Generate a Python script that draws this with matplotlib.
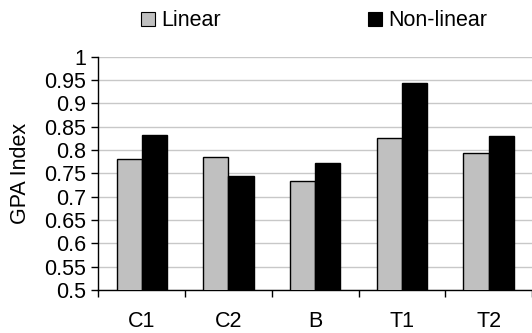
import matplotlib
matplotlib.use("Agg")
import matplotlib.pyplot as plt
import numpy as np
from matplotlib.patches import Patch

categories = ["C1", "C2", "B", "T1", "T2"]
linear = [0.781, 0.784, 0.734, 0.826, 0.794]
nonlinear = [0.833, 0.744, 0.773, 0.943, 0.830]
yticks = [0.5, 0.55, 0.6, 0.65, 0.7, 0.75, 0.8, 0.85, 0.9, 0.95, 1.0]
ytick_labels = ["0.5", "0.55", "0.6", "0.65", "0.7", "0.75", "0.8", "0.85", "0.9", "0.95", "1"]

plt.rcParams["font.family"] = ["Liberation Sans", "DejaVu Sans"]
FS = 15.5

fig = plt.figure(figsize=(5.32, 3.33), dpi=100)
ax = fig.add_axes([98.3 / 532, 1 - 290 / 333, 1 - 98.3 / 532, (290 - 56.7) / 333])

x = np.arange(len(categories))
w = 0.29
ax.bar(x - w / 2, linear, w, color="#c0c0c0", edgecolor="black", linewidth=1.0, zorder=3)
ax.bar(x + w / 2, nonlinear, w, color="black", edgecolor="black", linewidth=1.0, zorder=3)

ax.set_ylim(0.5, 1.0)
ax.set_xlim(-0.5, 4.46)
ax.set_yticks(yticks)
ax.set_yticklabels(ytick_labels, fontsize=FS)
ax.yaxis.grid(True, color="#c8c8c8", linewidth=1.0, zorder=0)
ax.set_axisbelow(True)

# category separators as ticks, labels centred in each slot
ax.set_xticks(np.arange(len(categories) + 1) - 0.5)
ax.set_xticklabels([])
ax.set_xticks(x, minor=True)
ax.set_xticklabels(categories, minor=True, fontsize=FS)
ax.tick_params(axis="x", which="minor", length=0, pad=15)
ax.tick_params(axis="x", which="major", length=5, width=1, direction="out")
ax.tick_params(axis="y", length=5, width=1, direction="out", pad=4)

for s in ["top", "right"]:
    ax.spines[s].set_visible(False)
for s in ["left", "bottom"]:
    ax.spines[s].set_color("black")
    ax.spines[s].set_linewidth(1.0)

ax.set_ylabel("GPA Index", fontsize=FS, labelpad=9)

handles = [Patch(facecolor="#c0c0c0", edgecolor="black", linewidth=0.8),
           Patch(facecolor="black", edgecolor="black", linewidth=0.8)]
fig.legend(handles, ["Linear", "Non-linear"], loc="center", bbox_to_anchor=(314 / 532, 1 - 21 / 333),
           ncol=2, frameon=False, fontsize=FS, handlelength=0.65, handleheight=0.65,
           handletextpad=0.3, columnspacing=6.8, borderaxespad=0, borderpad=0)

fig.savefig("out.png", dpi=100)
